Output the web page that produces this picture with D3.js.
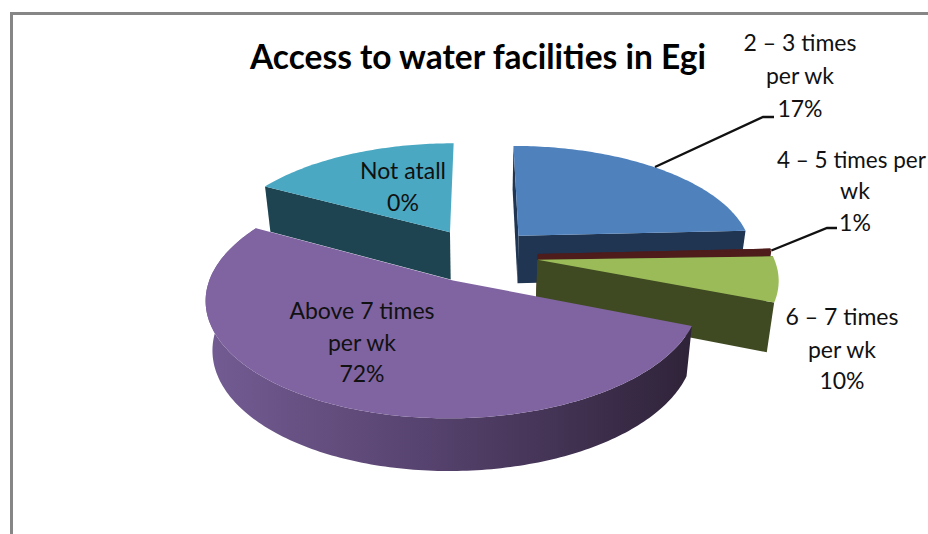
<!DOCTYPE html>
<html>
<head>
<meta charset="utf-8">
<script src="https://cdnjs.cloudflare.com/ajax/libs/d3/7.8.5/d3.min.js"></script>
<style>
html,body{margin:0;padding:0;background:#fff;overflow:hidden}
text{font-family:Lato,"Open Sans",sans-serif;fill:#111}
</style>
</head>
<body>
<svg id="c" width="928" height="534"></svg>
<script>
const categories = ["2 – 3 times per wk","4 – 5 times per wk","6 – 7 times per wk","Above 7 times per wk","Not atall"];
const percentLabels = ["17%","1%","10%","72%","0%"];
// Angular shares as they appear in the picture (the printed percentages do not match the drawn sweep)
const drawnShares = [24.2, 0.3, 6.5, 52, 17];
const topColors  = ["#4f81bd","#4f1c1c","#9bbb59","#8064a2","#4aa8c3"];
const wallColors = ["#1f3552","#4f1c1c","#3f4a22","#2f2339","#1d4450"];
const titleText = "Access to water facilities in Egi";

const svg = d3.select("#c");
const deg = Math.PI/180;
const cx = 479, cy = 255, A = 235.5, B = 108.7, persp = 0.15, explode = 0.25, depth = 48, shrink = 0.975;

const x = d3.scaleLinear().domain([-1,1]).range([cx-A,cx+A]);
const y = d3.scaleLinear().domain([-1,1]).range([cy+B,cy-B]);
const project = (U,V,low) => {
  const w = 1+persp*V, sx = x(U/w), sy = y(V/w);
  return low ? [cx+(sx-cx)*shrink, sy+depth*(1-0.08*V)] : [sx,sy];
};
const line = d3.line();

const arcs = d3.pie().sort(null).value(d=>d).startAngle(0).endAngle(360*deg)(drawnShares);

const slices = arcs.map((a,i)=>{
  const mid=(a.startAngle+a.endAngle)/2, ox=explode*Math.sin(mid), oy=explode*Math.cos(mid);
  const n=Math.max(2,Math.ceil((a.endAngle-a.startAngle)/deg));
  const rim=low=>d3.range(n+1).map(k=>{
    const t=a.startAngle+(a.endAngle-a.startAngle)*k/n;
    return project(ox+Math.sin(t),oy+Math.cos(t),low);
  });
  return {i,apex:project(ox,oy,false),apexLow:project(ox,oy,true),rimTop:rim(false),rimLow:rim(true)};
});

const defs=svg.append("defs");
const grad=defs.append("linearGradient").attr("id","pw").attr("gradientUnits","userSpaceOnUse")
  .attr("x1",205).attr("x2",690).attr("y1",0).attr("y2",0);
grad.append("stop").attr("offset",0).attr("stop-color","#735c93");
grad.append("stop").attr("offset",0.45).attr("stop-color","#57436f");
grad.append("stop").attr("offset",1).attr("stop-color","#2f2339");

// chart frame
svg.append("path").attr("d",line([[11.5,534],[11.5,13.5],[928,13.5]]))
  .attr("fill","none").attr("stroke","#868686").attr("stroke-width",3);

const g=svg.append("g");
function drawSlice(s){
  const f=wallColors[s.i], last=s.rimTop.length-1;
  if(s.i===3){
    // outer curved wall only: its straight edges are hidden by the top face
    g.append("path").attr("d",line(s.rimTop.concat(s.rimLow.slice().reverse()))+"Z").attr("fill","url(#pw)");
  } else {
    g.append("path").attr("d",line([s.apex,s.rimTop[0],s.rimLow[0],s.apexLow])+"Z").attr("fill",f);
    if(s.i!==4) g.append("path").attr("d",line([s.apex,s.rimTop[last],s.rimLow[last],s.apexLow])+"Z").attr("fill",f);
  }
  g.append("path").attr("d",line([s.apex].concat(s.rimTop))+"Z").attr("fill",topColors[s.i]);
}
// painter's order: far slices first
[0,4,1,2,3].forEach(i=>drawSlice(slices[i]));

// leader lines
const leader=pts=>svg.append("path").attr("d",line(pts)).attr("fill","none").attr("stroke","#111").attr("stroke-width",2.4);
leader([[655,167],[763,117],[774,117]]);
leader([slices[1].rimTop[slices[1].rimTop.length-1],[827,228],[837,228]]);

// title
svg.append("text").attr("x",478).attr("y",69).attr("text-anchor","middle")
  .attr("font-size",33.5).attr("font-weight",700).style("fill","#000").text(titleText);

// labels
const fs=23;
function label(lines,px,ys,anchor,size){
  lines.forEach((t,k)=>{
    svg.append("text").attr("x",px).attr("y",ys[k]).attr("text-anchor",anchor||"middle")
      .attr("font-size",size||fs).text(t);
  });
}
label(["2 – 3 times","per wk",percentLabels[0]],800,[51,84,117]);
label(["4 – 5 times per"],777,[168],"start",22.5);
label(["wk",percentLabels[1]],855,[199,231]);
label(["6 – 7 times","per wk",percentLabels[2]],842,[325,358,389]);
label(["Above 7 times","per wk",percentLabels[3]],362,[319,351,382]);
label([categories[4],percentLabels[4]],403,[179,211]);
</script>
</body>
</html>
